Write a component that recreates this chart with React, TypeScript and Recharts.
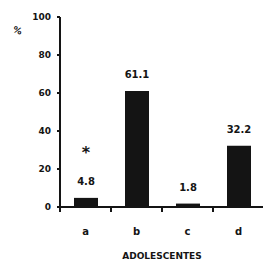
import { BarChart, Bar, XAxis, YAxis, LabelList, Label } from "recharts";

const groups = ["a", "b", "c", "d"];
const percents = [4.8, 61.1, 1.8, 32.2];
const marks = ["*", "", "", ""];
const yTicks = [0, 20, 40, 60, 80, 100];
const boundaries = [0, 1, 2, 3, 4];

const data = groups.map((g, i) => ({ group: g, pct: percents[i], mark: marks[i], pos: i + 0.5 }));

const INK = "#141414";
const FONT = "'DejaVu Sans', sans-serif";

// boundary ticks only, no text under them
const NoLabel = () => <g />;

export default function App() {
  return (
    <div style={{ position: "absolute", left: 0, top: 0, width: 263, height: 262, background: "#fff" }}>
      <BarChart
        width={263}
        height={262}
        data={data}
        margin={{ top: 17, right: -1, bottom: 0, left: 0 }}
        barSize={24}
      >
        <XAxis
          xAxisId={0}
          type="number"
          dataKey="pos"
          domain={[0, 4]}
          ticks={boundaries}
          tick={NoLabel}
          height={8}
          tickSize={5}
          axisLine={{ stroke: INK, strokeWidth: 2 }}
          tickLine={{ stroke: INK, strokeWidth: 2 }}
        />
        <XAxis
          xAxisId={1}
          dataKey="group"
          height={47}
          axisLine={false}
          tickLine={false}
          tickSize={0}
          tickMargin={13}
          tick={{ fill: INK, fontSize: 10, fontWeight: 700, fontFamily: FONT }}
        >
          <Label
            value="ADOLESCENTES"
            position="insideBottom"
            offset={3}
            style={{ fill: INK, fontSize: 9, fontWeight: 700, fontFamily: FONT }}
          />
        </XAxis>
        <YAxis
          width={60}
          domain={[0, 100]}
          ticks={yTicks}
          interval={0}
          tickSize={3}
          tickMargin={6}
          axisLine={{ stroke: INK, strokeWidth: 2 }}
          tickLine={{ stroke: INK, strokeWidth: 2 }}
          tick={{ fill: INK, fontSize: 9, fontWeight: 700, fontFamily: FONT }}
        />
        <Bar dataKey="pct" xAxisId={1} fill={INK} isAnimationActive={false}>
          <LabelList
            dataKey="pct"
            position="top"
            offset={13}
            formatter={(v: number) => v.toFixed(1)}
            style={{ fill: INK, fontSize: 10, fontWeight: 700, fontFamily: FONT }}
          />
          <LabelList
            dataKey="mark"
            position="top"
            offset={40}
            style={{ fill: INK, fontSize: 16, fontWeight: 700, fontFamily: FONT }}
          />
        </Bar>
        <text x={13} y={33} fill={INK} fontSize={9} fontWeight={700} fontFamily={FONT} transform="rotate(20 16 30)">
          %
        </text>
      </BarChart>
    </div>
  );
}
